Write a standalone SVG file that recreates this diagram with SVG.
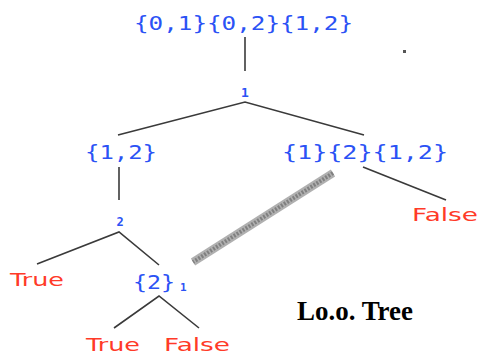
<svg xmlns="http://www.w3.org/2000/svg" width="480" height="356" viewBox="0 0 480 356">
<style>
.set{font-family:"DejaVu Sans Mono","Liberation Mono",monospace;font-size:20px;fill:#2b52f5}
.sub{font-family:"DejaVu Sans Mono","Liberation Mono",monospace;font-weight:bold;fill:#2b52f5}
.leaf{font-family:"DejaVu Sans","Liberation Sans",sans-serif;font-size:18px;fill:#ff3a28}
.edge{stroke:#3a3a3a;stroke-width:1.6;fill:none}
.title{font-family:"Liberation Serif","Times New Roman",serif;font-weight:bold;font-size:27px;fill:#000}
</style>
<rect width="480" height="356" fill="#fff"/>
<g id="connectors">
<line class="edge" x1="245" y1="37" x2="245" y2="71"/>
<polyline class="edge" points="118,135 245,102 364,135"/>
<line class="edge" x1="119" y1="167" x2="119" y2="200"/>
<line class="edge" x1="363" y1="167" x2="446" y2="200"/>
<polyline class="edge" points="37,264 119,232 159,265"/>
<polyline class="edge" points="114,328 159,296 199,328"/>
</g>
<g id="hatch">
<line x1="333" y1="173" x2="193" y2="262" stroke="#b0b0b0" stroke-width="8"/>
<line x1="333" y1="173" x2="193" y2="262" stroke="#808080" stroke-width="4" stroke-dasharray="2 1.5"/>
</g>
<g id="n_root"><text class="set" x="134" y="30" textLength="219" lengthAdjust="spacingAndGlyphs">{0,1}{0,2}{1,2}</text></g>
<g id="n_split1"><text class="sub" x="245" y="97" font-size="13" text-anchor="middle">1</text></g>
<g id="n_left"><text class="set" x="85" y="159" textLength="72" lengthAdjust="spacingAndGlyphs">{1,2}</text></g>
<g id="n_right"><text class="set" x="282" y="159" textLength="166" lengthAdjust="spacingAndGlyphs">{1}{2}{1,2}</text></g>
<g id="n_false1"><text class="leaf" x="412" y="221" textLength="66" lengthAdjust="spacingAndGlyphs">False</text></g>
<g id="n_split2"><text class="sub" x="120" y="226" font-size="12" text-anchor="middle">2</text></g>
<g id="n_true1"><text class="leaf" x="10" y="286" textLength="54" lengthAdjust="spacingAndGlyphs">True</text></g>
<g id="n_set2"><text class="set" x="133" y="289" textLength="42" lengthAdjust="spacingAndGlyphs">{2}</text><text class="sub" x="180" y="291" font-size="11">1</text></g>
<g id="n_true2"><text class="leaf" x="86" y="351" textLength="54" lengthAdjust="spacingAndGlyphs">True</text></g>
<g id="n_false2"><text class="leaf" x="164" y="351" textLength="66" lengthAdjust="spacingAndGlyphs">False</text></g>
<g id="caption"><text class="title" x="297" y="320" textLength="116" lengthAdjust="spacingAndGlyphs">Lo.o. Tree</text></g>
<rect x="403" y="50" width="3" height="3" fill="#555"/>
</svg>
